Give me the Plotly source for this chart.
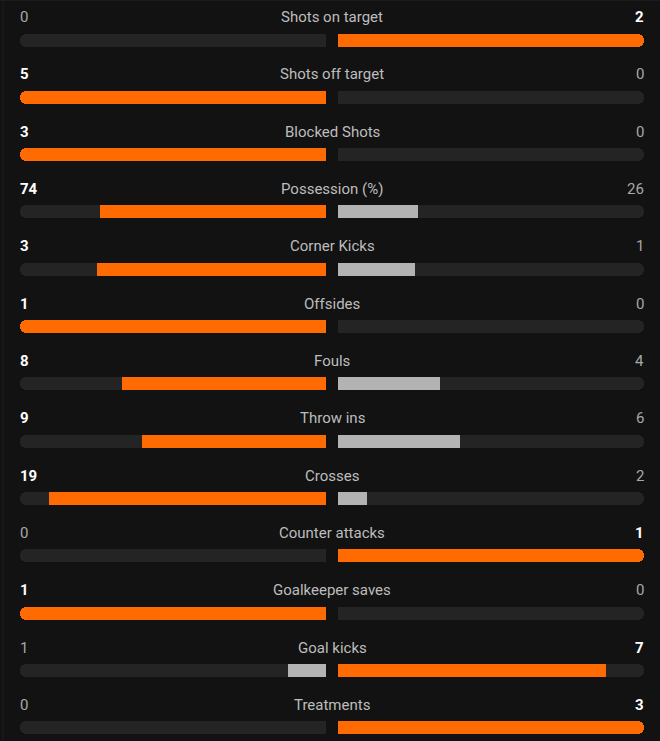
import plotly.graph_objects as go

categories = ["Shots on target", "Shots off target", "Blocked Shots", "Possession (%)",
              "Corner Kicks", "Offsides", "Fouls", "Throw ins", "Crosses",
              "Counter attacks", "Goalkeeper saves", "Goal kicks", "Treatments"]
home = [0, 5, 3, 74, 3, 1, 8, 9, 19, 0, 1, 1, 0]
away = [2, 0, 0, 26, 1, 0, 4, 6, 2, 1, 0, 7, 3]

BG = "#121212"
TRACK = "#242424"
ORANGE = "#ff6b00"
GREY = "#b3b3b3"
LABEL = "#bdbdbd"

W, H = 660, 741
PX = 306.0          # pixels per unit of bar length
G = 6 / PX          # half gap between the two halves
ROW = 57.33         # pixels per row
BAR_H = 13 / ROW

n = len(categories)
rows = list(range(n))
hf = [h / (h + a) if (h + a) else 0 for h, a in zip(home, away)]
af = [a / (h + a) if (h + a) else 0 for h, a in zip(home, away)]

fig = go.Figure()

def add_bars(xs, base, color, radius, name):
    fig.add_trace(go.Bar(
        y=rows, x=xs, base=base, orientation="h", width=BAR_H,
        marker=dict(color=color, line=dict(width=0), cornerradius=radius),
        hoverinfo="skip", showlegend=False, name=name))

# tracks: rounded full length, then square inner half to keep the inner end square
add_bars([-1] * n, [-G] * n, TRACK, 6, "trackL")
add_bars([1] * n, [G] * n, TRACK, 6, "trackR")
add_bars([-0.5] * n, [-G] * n, TRACK, 0, "trackLsq")
add_bars([0.5] * n, [G] * n, TRACK, 0, "trackRsq")

# fills
for side in ("L", "R"):
    fr = hf if side == "L" else af
    other = af if side == "L" else hf
    sign = -1 if side == "L" else 1
    base = [sign * G] * n
    for win in (True, False):
        color = ORANGE if win else GREY
        sel = [(f >= o) == win for f, o in zip(fr, other)]
        full = [sign * f if (f >= 0.999 and s) else None for f, s in zip(fr, sel)]
        full_sq = [sign * 0.5 if (f >= 0.999 and s) else None for f, s in zip(fr, sel)]
        part = [sign * f if (0 < f < 0.999 and s) else None for f, s in zip(fr, sel)]
        add_bars(full, base, color, 6, side + "full")
        add_bars(full_sq, base, color, 0, side + "fullsq")
        add_bars(part, base, color, 0, side + "part")

ann = []
lab_off = 23 / ROW
FS = 15
for i, (c, h, a) in enumerate(zip(categories, home, away)):
    y = i - lab_off
    ann.append(dict(x=0, y=y, text=c, showarrow=False, xanchor="center", yanchor="middle",
                    font=dict(family="Roboto", size=FS, color=LABEL)))
    hw = h > a
    aw = a > h
    ann.append(dict(x=-1 - G, y=y, text=f"<b>{h}</b>" if hw else str(h), showarrow=False,
                    xanchor="left", yanchor="middle", xshift=-2,
                    font=dict(family="Roboto", size=FS, color="#ffffff" if hw else "#a8a8a8")))
    ann.append(dict(x=1 + G, y=y, text=f"<b>{a}</b>" if aw else str(a), showarrow=False,
                    xanchor="right", yanchor="middle", xshift=2,
                    font=dict(family="Roboto", size=FS, color="#ffffff" if aw else "#a8a8a8")))

y_top = -40 / ROW
y_bot = (H - 40) / ROW

fig.update_layout(
    width=W, height=H, margin=dict(l=0, r=0, t=0, b=0),
    paper_bgcolor=BG, plot_bgcolor=BG, barmode="overlay", bargap=0,
    xaxis=dict(range=[-332 / PX, 328 / PX], visible=False, fixedrange=True),
    yaxis=dict(range=[y_bot, y_top], visible=False, fixedrange=True),
    annotations=ann,
    shapes=[dict(type="line", xref="paper", yref="paper", x0=0.0045, x1=0.0045, y0=0, y1=1,
                 line=dict(color="#1e1e1e", width=1)),
            dict(type="line", xref="paper", yref="paper", x0=0, x1=1, y0=0.9995, y1=0.9995,
                 line=dict(color="#1e1e1e", width=1))],
)

fig.write_html("out.html")
